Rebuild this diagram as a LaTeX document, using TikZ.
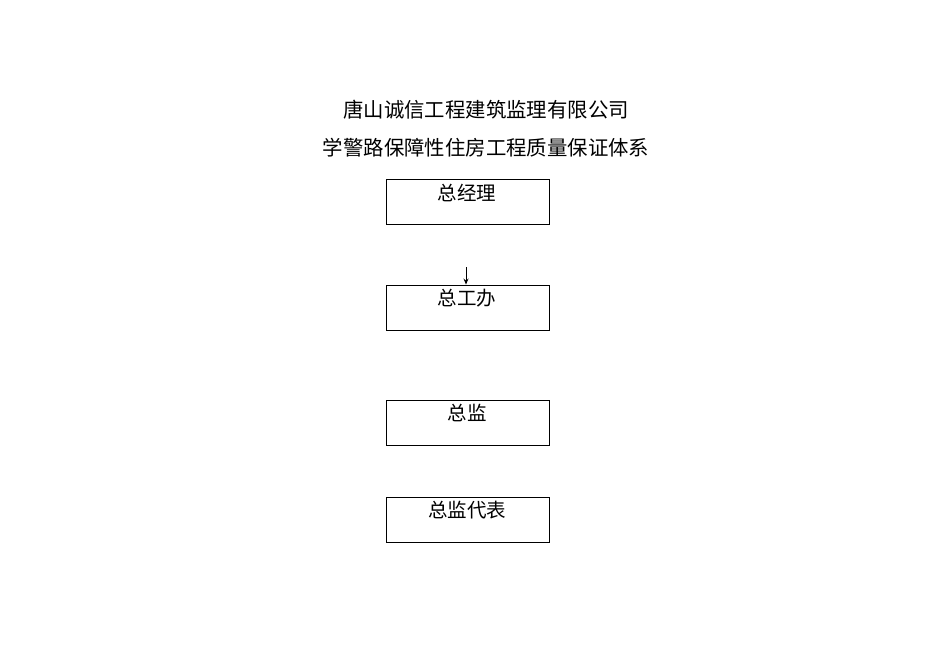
\documentclass[tikz,border=0pt]{standalone}
\usepackage{fontspec}
\setmainfont{Noto Sans CJK SC}
\usetikzlibrary{arrows.meta}
\begin{document}
\begin{tikzpicture}[x=1bp,y=-1bp,
  box/.style={draw=black,line width=0.9bp,minimum width=163bp,minimum height=45bp,inner sep=0pt},
  lbl/.style={font=\fontsize{19.5bp}{22bp}\selectfont},
  ttl/.style={font=\fontsize{20.4bp}{24bp}\selectfont}]
\useasboundingbox (0,0) rectangle (950,672);
\node[ttl] (t1) at (486,110) {唐山诚信工程建筑监理有限公司};
\node[ttl] (t2) at (486,148) {学警路保障性住房工程质量保证体系};
\node[box] (b1) at (467.5,202) {};
\node[box] (b2) at (467.5,307.5) {};
\node[box] (b3) at (467.5,422.5) {};
\node[box] (b4) at (467.5,519.5) {};
\node[lbl] (l1) at (467,193) {总经理};
\node[lbl] (l2) at (467,298) {总工办};
\node[lbl] (l3) at (467,413) {总监};
\node[lbl] (l4) at (467,510) {总监代表};
\coordinate (a0) at (466,267);
\draw[line width=0.9bp,-{Stealth[length=6bp,width=5bp]}] (a0) -- (a0 |- b2.north);
\end{tikzpicture}
\end{document}
